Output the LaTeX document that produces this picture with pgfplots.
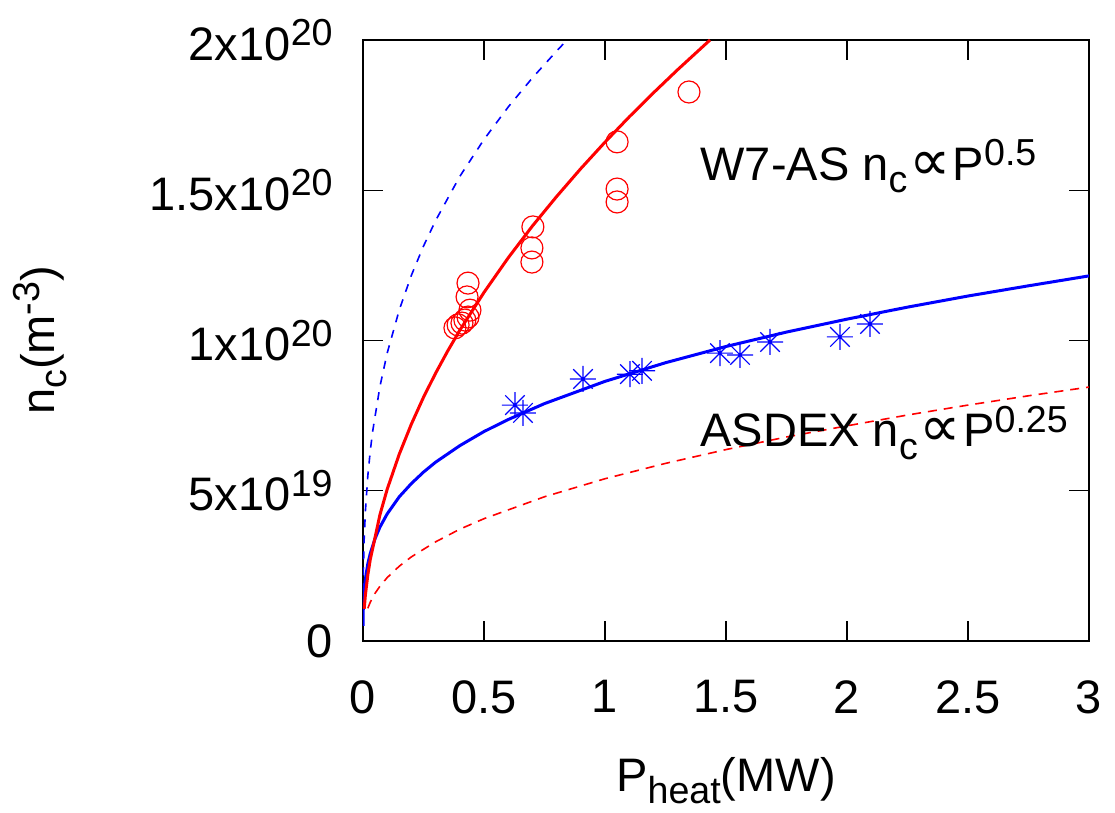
\documentclass[border=0pt]{standalone}
\usepackage{fontspec}
\setmainfont{Liberation Sans}
\newfontfamily\dejavu{DejaVu Sans}
\usepackage{graphicx}
\usepackage{pgfplots}
\pgfplotsset{compat=1.18}

% gnuplot-like sub/superscripts
\newcommand{\sub}[1]{\raisebox{-0.26em}{\fontsize{18.8pt}{20pt}\selectfont #1}}
\newcommand{\sups}[1]{\raisebox{0.31em}{\fontsize{18.8pt}{20pt}\selectfont #1}}
\newcommand{\prop}{{\dejavu\fontsize{29pt}{30pt}\selectfont ∝}}

% gnuplot point type 3: + and x together
\pgfdeclareplotmark{ast8}{%
  \pgfpathmoveto{\pgfqpoint{-\pgfplotmarksize}{0pt}}\pgfpathlineto{\pgfqpoint{\pgfplotmarksize}{0pt}}%
  \pgfpathmoveto{\pgfqpoint{0pt}{-\pgfplotmarksize}}\pgfpathlineto{\pgfqpoint{0pt}{\pgfplotmarksize}}%
  \pgfpathmoveto{\pgfqpoint{-.75\pgfplotmarksize}{-.75\pgfplotmarksize}}\pgfpathlineto{\pgfqpoint{.75\pgfplotmarksize}{.75\pgfplotmarksize}}%
  \pgfpathmoveto{\pgfqpoint{-.75\pgfplotmarksize}{.75\pgfplotmarksize}}\pgfpathlineto{\pgfqpoint{.75\pgfplotmarksize}{-.75\pgfplotmarksize}}%
  \pgfusepathqstroke}

\begin{document}
\begin{tikzpicture}
\useasboundingbox (-181.5pt,-86pt) rectangle (376pt,320.5pt);
\begin{axis}[
    scale only axis,
    width=363pt, height=300.5pt,
    xmin=0, xmax=3, ymin=0, ymax=2,
    xtick={0,0.5,1,1.5,2,2.5,3},
    xticklabels={0,0.5,1,1.5,2,2.5,3},
    ytick={0,0.5,1,1.5,2},
    yticklabels={0,5x10\sups{19},1x10\sups{20},1.5x10\sups{20},2x10\sups{20}},
    tick align=inside,
    major tick length=10pt,
    every tick/.style={black, line width=0.6pt},
    axis line style={black, line width=0.8pt},
    xticklabel style={anchor=north, inner sep=0pt, yshift=-19.5pt},
    yticklabel style={anchor=east, inner sep=0pt, xshift=-15pt},
    xlabel={P\sub{heat}(MW)},
    xlabel style={at={(axis description cs:0.5,-0.25)}, anchor=base},
    ylabel={n\sub{c}(m\sups{-3})},
    ylabel style={at={(axis description cs:-0.4449,0.5)}, anchor=center},
    font=\fontsize{23.5pt}{28pt}\selectfont,
]

% blue dashed
\addplot[blue, line width=0.8pt, dash pattern=on 4pt off 4pt, no markers] coordinates {
(0.0002,0.112) (0.001,0.196) (0.002,0.248) (0.005,0.341) (0.01,0.433) (0.02,0.55)
(0.03,0.632) (0.04,0.698) (0.07,0.847) (0.1,0.958) (0.15,1.102) (0.2,1.217)
(0.25,1.314) (0.3,1.399) (0.4,1.546) (0.5,1.669) (0.6,1.777) (0.7,1.874)
(0.8,1.963) (0.843,2.0)};

% red dashed
\addplot[red, line width=0.8pt, dash pattern=on 4.5pt off 3.5pt, no markers] coordinates {
(0.02,0.109) (0.03,0.129) (0.05,0.159) (0.07,0.182) (0.1,0.211) (0.15,0.249)
(0.2,0.280) (0.3,0.330) (0.4,0.372) (0.5,0.407) (0.75,0.480) (1,0.540)
(1.25,0.591) (1.5,0.637) (1.75,0.679) (2,0.716) (2.25,0.752) (2.5,0.785)
(2.75,0.816) (3,0.845)};

% blue solid (ASDEX fit)
\addplot[blue, line width=1.5pt, no markers] coordinates {
(0.0001,0.05) (0.0005,0.082) (0.001,0.102) (0.002,0.126) (0.005,0.167) (0.01,0.207)
(0.02,0.257) (0.03,0.291) (0.05,0.341) (0.07,0.379) (0.1,0.423) (0.15,0.480)
(0.2,0.524) (0.25,0.562) (0.3,0.595) (0.4,0.650) (0.5,0.697) (0.6,0.737)
(0.75,0.790) (1,0.864) (1.25,0.926) (1.5,0.980) (1.75,1.028) (2,1.071)
(2.25,1.111) (2.5,1.148) (2.75,1.182) (3,1.215)};

% red solid (W7-AS fit)
\addplot[red, line width=1.5pt, no markers] coordinates {
(0.005,0.107) (0.01,0.154) (0.02,0.220) (0.03,0.271) (0.05,0.345) (0.07,0.420)
(0.1,0.505) (0.15,0.622) (0.2,0.722) (0.25,0.811) (0.3,0.891) (0.35,0.965)
(0.4,1.034) (0.5,1.160) (0.6,1.275) (0.7,1.381) (0.8,1.479) (0.9,1.572)
(1.0,1.66) (1.1,1.744) (1.2,1.824) (1.3,1.901) (1.434,2.0)};

% W7-AS data
\addplot[red, only marks, mark=o, mark size=5.5pt, mark options={line width=0.6pt}] coordinates {
(1.347,1.827) (1.050,1.661) (1.050,1.504) (1.050,1.461)
(0.702,1.378) (0.698,1.308) (0.698,1.261)
(0.434,1.191) (0.430,1.145) (0.442,1.101) (0.434,1.078) (0.421,1.068)
(0.409,1.058) (0.393,1.052) (0.380,1.042)};

% ASDEX data
\addplot[blue, only marks, mark=ast8, mark size=6.5pt, mark options={line width=0.6pt}] coordinates {
(0.628,0.785) (0.661,0.759) (0.909,0.872) (1.103,0.888) (1.153,0.899)
(1.475,0.958) (1.558,0.952) (1.682,0.995) (1.971,1.012) (2.095,1.055)};

\node[anchor=base west, inner sep=0pt, font=\fontsize{23.5pt}{28pt}\selectfont]
  at (axis cs:1.393,1.534) {W7-AS n\sub{c}\kern1pt\prop\kern1ptP\sups{0.5}};
\node[anchor=base west, inner sep=0pt, font=\fontsize{23.5pt}{28pt}\selectfont]
  at (axis cs:1.393,0.646) {ASDEX n\sub{c}\kern1pt\prop\kern1ptP\sups{0.25}};
\end{axis}
\end{tikzpicture}
\end{document}
